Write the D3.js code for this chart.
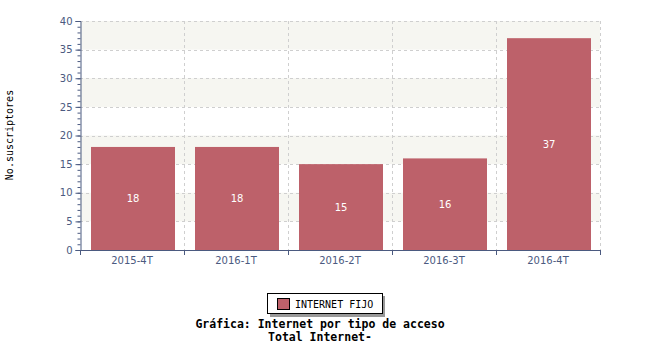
<!DOCTYPE html>
<html>
<head>
<meta charset="utf-8">
<script src="https://cdn.jsdelivr.net/npm/d3@7"></script>
<style>
  body { margin: 0; background: #fff; }
  text { font-family: "DejaVu Sans Mono", monospace; }
</style>
</head>
<body>
<script>
// periodos y suscriptores
var periods = ["2015-4T", "2016-1T", "2016-2T", "2016-3T", "2016-4T"];
var subscribers = [18, 18, 15, 16, 37];
var yTicks = [0, 5, 10, 15, 20, 25, 30, 35, 40];
var seriesName = "INTERNET FIJO";
var titleLines = ["Gráfica: Internet por tipo de acceso", "Total Internet-"];

var W = 650, H = 350;
var pLeft = 80, pRight = 600, pTop = 21, pBottom = 250;
var axisColor = "#4b5a80", barColor = "#bd616a";
var sans = "DejaVu Sans, sans-serif";

var svg = d3.select("body").append("svg")
  .attr("width", W)
  .attr("height", H);

var x = d3.scaleBand().domain(periods).range([pLeft, pRight]).paddingInner(0);
var y = d3.scaleLinear().domain([0, 40]).range([pBottom, pTop]);

// bandas alternadas
var bands = d3.range(0, 40, 10).map(function(v) { return [v + 5, v + 10]; });
svg.selectAll("rect.band").data(bands).enter().append("rect")
  .attr("x", pLeft).attr("width", pRight - pLeft)
  .attr("y", function(d) { return y(d[1]); })
  .attr("height", function(d) { return y(d[0]) - y(d[1]); })
  .attr("fill", "#f6f6f1");

// rejilla
svg.selectAll("line.hgrid").data(yTicks.slice(1)).enter().append("line")
  .attr("x1", pLeft).attr("x2", pRight)
  .attr("y1", function(d) { return Math.round(y(d)) + 0.5; })
  .attr("y2", function(d) { return Math.round(y(d)) + 0.5; })
  .attr("stroke", "#cfcfcf").attr("stroke-dasharray", "3,3");

var bounds = periods.map(function(p) { return x(p) + x.bandwidth(); });
svg.selectAll("line.vgrid").data(bounds).enter().append("line")
  .attr("x1", function(d) { return d + 0.5; })
  .attr("x2", function(d) { return d + 0.5; })
  .attr("y1", pTop).attr("y2", pBottom)
  .attr("stroke", "#cfcfcf").attr("stroke-dasharray", "3,3");

// barras
svg.selectAll("rect.bar").data(subscribers).enter().append("rect")
  .attr("x", function(d, i) { return x(periods[i]) + 11; })
  .attr("width", x.bandwidth() - 20)
  .attr("y", function(d) { return y(d); })
  .attr("height", function(d) { return y(0) - y(d); })
  .attr("fill", barColor);

svg.selectAll("text.val").data(subscribers).enter().append("text")
  .attr("x", function(d, i) { return x(periods[i]) + 11 + (x.bandwidth() - 20) / 2; })
  .attr("y", function(d) { return y(d / 2) + 4; })
  .attr("text-anchor", "middle")
  .attr("font-size", 10)
  .style("font-family", sans)
  .attr("fill", "#fff")
  .text(function(d) { return d; });

// eje y
var yAxis = svg.append("g").attr("transform", "translate(" + (pLeft + 0.5) + ",0)")
  .call(d3.axisLeft(y).tickValues(yTicks).tickSize(5).tickPadding(3));
svg.append("g").attr("transform", "translate(" + (pLeft + 0.5) + ",0)")
  .call(d3.axisLeft(y).ticks(40).tickSize(3).tickFormat(""))
  .select(".domain").remove();
// eje x
var xAxis = svg.append("g").attr("transform", "translate(0," + (pBottom + 0.5) + ")")
  .call(d3.axisBottom(x).tickSize(0).tickPadding(6));
svg.append("g").selectAll("line").data([pLeft].concat(bounds)).enter().append("line")
  .attr("x1", function(d) { return d + 0.5; })
  .attr("x2", function(d) { return d + 0.5; })
  .attr("y1", pBottom).attr("y2", pBottom + 5)
  .attr("stroke", axisColor);

svg.selectAll(".domain").attr("stroke", axisColor);
svg.selectAll(".tick line").attr("stroke", axisColor);
svg.selectAll(".tick text").attr("fill", axisColor)
  .style("font-family", sans).attr("font-size", 10);
xAxis.select(".domain").attr("d", "M" + pLeft + ",0H" + pRight);

svg.append("text")
  .attr("transform", "translate(13,135) rotate(-90)")
  .attr("text-anchor", "middle")
  .attr("font-size", 10)
  .attr("fill", "#000")
  .text("No.suscriptores");

// leyenda
var lg = svg.append("g");
lg.append("rect").attr("x", 270).attr("y", 296).attr("width", 115).attr("height", 21).attr("fill", "#999");
lg.append("rect").attr("x", 267.5).attr("y", 293.5).attr("width", 115).attr("height", 20)
  .attr("fill", "#fff").attr("stroke", "#000");
lg.append("rect").attr("x", 277.5).attr("y", 298.5).attr("width", 12).attr("height", 11)
  .attr("fill", barColor).attr("stroke", "#000");
lg.append("text").attr("x", 295).attr("y", 308).attr("font-size", 10).attr("fill", "#000").text(seriesName);

svg.selectAll("text.title").data(titleLines).enter().append("text")
  .attr("x", 320)
  .attr("y", function(d, i) { return 328 + i * 13; })
  .attr("text-anchor", "middle")
  .attr("font-size", 11.5)
  .attr("font-weight", "bold")
  .attr("fill", "#000")
  .text(function(d) { return d; });
</script>
</body>
</html>
